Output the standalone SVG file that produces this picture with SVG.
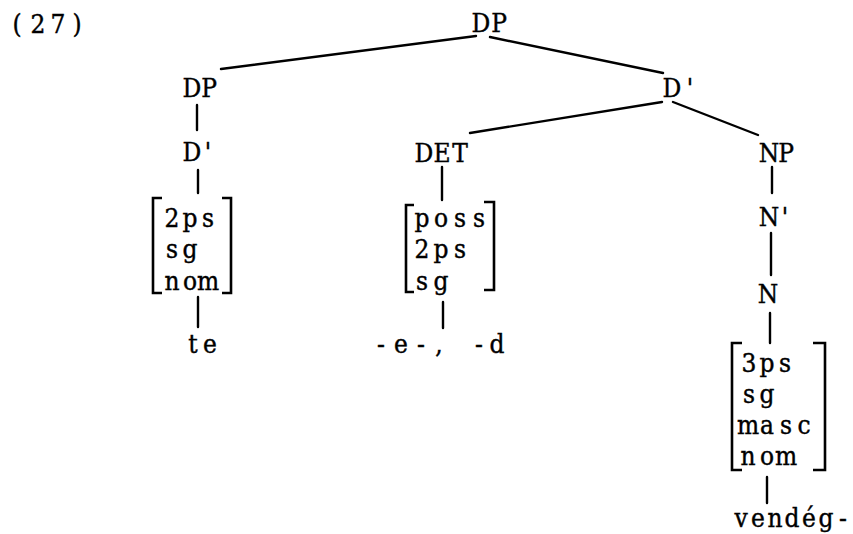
<svg xmlns="http://www.w3.org/2000/svg" width="853" height="534" viewBox="0 0 853 534">
  <style>
    text { font-family: "DejaVu Serif Condensed", "DejaVu Serif", "Liberation Serif", serif; font-size: 26px; fill: #000; stroke: #000; stroke-width: 0.4; text-anchor: middle; }
    .edge { stroke: #000; stroke-width: 2.4; fill: none; stroke-linecap: round; }
    .br { stroke: #000; stroke-width: 2.6; fill: none; stroke-linejoin: miter; }
  </style>
  <rect width="853" height="534" fill="#fff"/>

  <!-- example number -->
  <g id="label">
    <text x="17 38 58 77" y="33">(27)</text>
  </g>

  <!-- tree branches -->
  <g id="connectors">
    <line class="edge" x1="476" y1="36" x2="221" y2="69"/>
    <line class="edge" x1="490" y1="37" x2="663" y2="73"/>
    <line class="edge" x1="662" y1="102" x2="470" y2="133"/>
    <line class="edge" x1="673" y1="102" x2="758" y2="135"/>
    <line class="edge" x1="197" y1="105" x2="197" y2="130"/>
    <line class="edge" x1="198" y1="170" x2="198" y2="193"/>
    <line class="edge" x1="198" y1="297" x2="198" y2="327"/>
    <line class="edge" x1="442" y1="167" x2="442" y2="200"/>
    <line class="edge" x1="443" y1="302" x2="443" y2="328"/>
    <line class="edge" x1="772" y1="167" x2="772" y2="193"/>
    <line class="edge" x1="771" y1="233" x2="771" y2="275"/>
    <line class="edge" x1="770" y1="313" x2="770" y2="343"/>
    <line class="edge" x1="767" y1="477" x2="767" y2="503"/>
  </g>

  <g id="dp-root"><text x="481 499" y="32">DP</text></g>
  <g id="dp-left"><text x="192 209" y="97">DP</text></g>
  <g id="dbar-left"><text x="192 208" y="161">D'</text></g>

  <g id="features-te">
    <path class="br" d="M162,198 H153 V293 H162"/>
    <path class="br" d="M222,198 H231 V293 H222"/>
    <text x="172 190 208" y="227">2ps</text>
    <text x="172 190" y="258">sg</text>
    <text x="172 190 208" y="290">nom</text>
  </g>
  <g id="te"><text x="193 210" y="353">te</text></g>

  <g id="dbar-right"><text x="672 690" y="97">D'</text></g>
  <g id="det"><text x="424 442 460" y="162">DET</text></g>

  <g id="features-det">
    <path class="br" d="M414,205 H406 V292 H414"/>
    <path class="br" d="M484,202 H494 V290 H484"/>
    <text x="422 441 460 479" y="227">poss</text>
    <text x="422 441 460" y="258">2ps</text>
    <text x="422 441" y="290">sg</text>
  </g>
  <g id="suffix"><text x="381 401 421 439 458 479 497" y="353">-e-, -d</text></g>

  <g id="np"><text x="769 786" y="162">NP</text></g>
  <g id="nbar"><text x="769 785" y="226">N'</text></g>
  <g id="n"><text x="768" y="303">N</text></g>

  <g id="features-n">
    <path class="br" d="M742,343 H732 V470 H742"/>
    <path class="br" d="M813,343 H825 V470 H813"/>
    <text x="749 767 785" y="372">3ps</text>
    <text x="749 767" y="403">sg</text>
    <text x="748 767 786 804" y="434">masc</text>
    <text x="748 767 786" y="465">nom</text>
  </g>
  <g id="vendeg"><text x="741 758 775 792 809 826 843" y="527">vendég-</text></g>
</svg>
